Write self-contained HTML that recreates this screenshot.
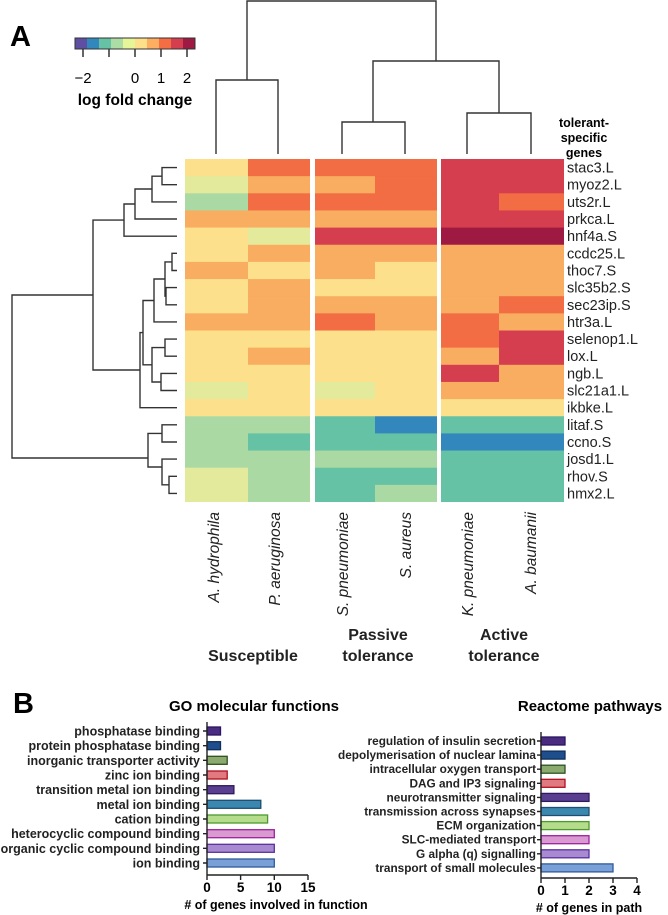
<!DOCTYPE html>
<html><head><meta charset="utf-8"><style>
html,body{margin:0;padding:0;background:#fff}
svg{display:block;font-family:"Liberation Sans",Arial,sans-serif}
.Y{fill:#fde08b}.LG{fill:#e4ea9c}.G{fill:#abd9a4}.T{fill:#66c2a5}.B{fill:#3288bd}.O{fill:#f9ad61}.R{fill:#f26d43}.RR{fill:#d53e4f}.DR{fill:#9e1a42}
.d{fill:none;stroke:#333;stroke-width:1.4}
.g{font-size:14.5px;fill:#222}
.bl{font-size:12.5px;font-weight:bold;fill:#222}
.rl{font-size:11.8px;font-weight:bold;fill:#222}
</style></head><body>
<svg width="668" height="915" viewBox="0 0 668 915">
<text x="10" y="46" font-size="29" font-weight="bold">A</text>
<g>
<rect x="75" y="38" width="12" height="11" fill="#5e4fa2"/><rect x="87" y="38" width="12" height="11" fill="#3288bd"/><rect x="99" y="38" width="12" height="11" fill="#66c2a5"/><rect x="111" y="38" width="12" height="11" fill="#abdda4"/><rect x="123" y="38" width="12" height="11" fill="#e6f598"/><rect x="135" y="38" width="12" height="11" fill="#fee08b"/><rect x="147" y="38" width="12" height="11" fill="#fdae61"/><rect x="159" y="38" width="12" height="11" fill="#f46d43"/><rect x="171" y="38" width="12" height="11" fill="#d53e4f"/><rect x="183" y="38" width="12" height="11" fill="#9e1a42"/>
<rect x="75" y="38" width="120" height="11" fill="none" stroke="#333" stroke-width="1"/>
<path d="M83 49V57M109 49V57M135 49V57M161 49V57M187 49V57" stroke="#333" stroke-width="1.5"/>
<text x="83" y="83" font-size="15" text-anchor="middle">−2</text><text x="135" y="83" font-size="15" text-anchor="middle">0</text><text x="161" y="83" font-size="15" text-anchor="middle">1</text><text x="187" y="83" font-size="15" text-anchor="middle">2</text>
<text x="135" y="105" font-size="15.5" font-weight="bold" text-anchor="middle">log fold change</text>
</g>
<path class="d" d="M216 154V80H278V154M247 80V1H436V61M342 154V122H405V154M373 122V61H499V113M467 154V113H531V154"/>
<text x="584" y="127" font-size="12.5" font-weight="bold" text-anchor="middle">tolerant-</text>
<text x="584" y="142" font-size="12.5" font-weight="bold" text-anchor="middle">specific</text>
<text x="584" y="157" font-size="12.5" font-weight="bold" text-anchor="middle">genes</text>
<g id="hm">
<g transform="translate(0,159)"><rect class="Y" x="185" width="63" height="17.6"/><rect class="R" x="248" width="62" height="17.6"/><rect class="R" x="315" width="60" height="17.6"/><rect class="R" x="375" width="62" height="17.6"/><rect class="RR" x="441" width="58" height="17.6"/><rect class="RR" x="499" width="65" height="17.6"/></g>
<g transform="translate(0,176.15)"><rect class="LG" x="185" width="63" height="17.6"/><rect class="O" x="248" width="62" height="17.6"/><rect class="O" x="315" width="60" height="17.6"/><rect class="R" x="375" width="62" height="17.6"/><rect class="RR" x="441" width="58" height="17.6"/><rect class="RR" x="499" width="65" height="17.6"/></g>
<g transform="translate(0,193.3)"><rect class="G" x="185" width="63" height="17.6"/><rect class="R" x="248" width="62" height="17.6"/><rect class="R" x="315" width="60" height="17.6"/><rect class="R" x="375" width="62" height="17.6"/><rect class="RR" x="441" width="58" height="17.6"/><rect class="R" x="499" width="65" height="17.6"/></g>
<g transform="translate(0,210.45)"><rect class="O" x="185" width="63" height="17.6"/><rect class="O" x="248" width="62" height="17.6"/><rect class="O" x="315" width="60" height="17.6"/><rect class="O" x="375" width="62" height="17.6"/><rect class="RR" x="441" width="58" height="17.6"/><rect class="RR" x="499" width="65" height="17.6"/></g>
<g transform="translate(0,227.6)"><rect class="Y" x="185" width="63" height="17.6"/><rect class="LG" x="248" width="62" height="17.6"/><rect class="RR" x="315" width="60" height="17.6"/><rect class="RR" x="375" width="62" height="17.6"/><rect class="DR" x="441" width="58" height="17.6"/><rect class="DR" x="499" width="65" height="17.6"/></g>
<g transform="translate(0,244.75)"><rect class="Y" x="185" width="63" height="17.6"/><rect class="O" x="248" width="62" height="17.6"/><rect class="O" x="315" width="60" height="17.6"/><rect class="O" x="375" width="62" height="17.6"/><rect class="O" x="441" width="58" height="17.6"/><rect class="O" x="499" width="65" height="17.6"/></g>
<g transform="translate(0,261.9)"><rect class="O" x="185" width="63" height="17.6"/><rect class="Y" x="248" width="62" height="17.6"/><rect class="O" x="315" width="60" height="17.6"/><rect class="Y" x="375" width="62" height="17.6"/><rect class="O" x="441" width="58" height="17.6"/><rect class="O" x="499" width="65" height="17.6"/></g>
<g transform="translate(0,279.05)"><rect class="Y" x="185" width="63" height="17.6"/><rect class="O" x="248" width="62" height="17.6"/><rect class="Y" x="315" width="60" height="17.6"/><rect class="Y" x="375" width="62" height="17.6"/><rect class="O" x="441" width="58" height="17.6"/><rect class="O" x="499" width="65" height="17.6"/></g>
<g transform="translate(0,296.2)"><rect class="Y" x="185" width="63" height="17.6"/><rect class="O" x="248" width="62" height="17.6"/><rect class="O" x="315" width="60" height="17.6"/><rect class="O" x="375" width="62" height="17.6"/><rect class="O" x="441" width="58" height="17.6"/><rect class="R" x="499" width="65" height="17.6"/></g>
<g transform="translate(0,313.35)"><rect class="O" x="185" width="63" height="17.6"/><rect class="O" x="248" width="62" height="17.6"/><rect class="R" x="315" width="60" height="17.6"/><rect class="O" x="375" width="62" height="17.6"/><rect class="R" x="441" width="58" height="17.6"/><rect class="O" x="499" width="65" height="17.6"/></g>
<g transform="translate(0,330.5)"><rect class="Y" x="185" width="63" height="17.6"/><rect class="Y" x="248" width="62" height="17.6"/><rect class="Y" x="315" width="60" height="17.6"/><rect class="Y" x="375" width="62" height="17.6"/><rect class="R" x="441" width="58" height="17.6"/><rect class="RR" x="499" width="65" height="17.6"/></g>
<g transform="translate(0,347.65)"><rect class="Y" x="185" width="63" height="17.6"/><rect class="O" x="248" width="62" height="17.6"/><rect class="Y" x="315" width="60" height="17.6"/><rect class="Y" x="375" width="62" height="17.6"/><rect class="O" x="441" width="58" height="17.6"/><rect class="RR" x="499" width="65" height="17.6"/></g>
<g transform="translate(0,364.8)"><rect class="Y" x="185" width="63" height="17.6"/><rect class="Y" x="248" width="62" height="17.6"/><rect class="Y" x="315" width="60" height="17.6"/><rect class="Y" x="375" width="62" height="17.6"/><rect class="RR" x="441" width="58" height="17.6"/><rect class="O" x="499" width="65" height="17.6"/></g>
<g transform="translate(0,381.95)"><rect class="LG" x="185" width="63" height="17.6"/><rect class="Y" x="248" width="62" height="17.6"/><rect class="LG" x="315" width="60" height="17.6"/><rect class="Y" x="375" width="62" height="17.6"/><rect class="O" x="441" width="58" height="17.6"/><rect class="O" x="499" width="65" height="17.6"/></g>
<g transform="translate(0,399.1)"><rect class="Y" x="185" width="63" height="17.6"/><rect class="Y" x="248" width="62" height="17.6"/><rect class="Y" x="315" width="60" height="17.6"/><rect class="Y" x="375" width="62" height="17.6"/><rect class="Y" x="441" width="58" height="17.6"/><rect class="Y" x="499" width="65" height="17.6"/></g>
<g transform="translate(0,416.25)"><rect class="G" x="185" width="63" height="17.6"/><rect class="G" x="248" width="62" height="17.6"/><rect class="T" x="315" width="60" height="17.6"/><rect class="B" x="375" width="62" height="17.6"/><rect class="T" x="441" width="58" height="17.6"/><rect class="T" x="499" width="65" height="17.6"/></g>
<g transform="translate(0,433.4)"><rect class="G" x="185" width="63" height="17.6"/><rect class="T" x="248" width="62" height="17.6"/><rect class="T" x="315" width="60" height="17.6"/><rect class="T" x="375" width="62" height="17.6"/><rect class="B" x="441" width="58" height="17.6"/><rect class="B" x="499" width="65" height="17.6"/></g>
<g transform="translate(0,450.55)"><rect class="G" x="185" width="63" height="17.6"/><rect class="G" x="248" width="62" height="17.6"/><rect class="G" x="315" width="60" height="17.6"/><rect class="G" x="375" width="62" height="17.6"/><rect class="T" x="441" width="58" height="17.6"/><rect class="T" x="499" width="65" height="17.6"/></g>
<g transform="translate(0,467.7)"><rect class="LG" x="185" width="63" height="17.6"/><rect class="G" x="248" width="62" height="17.6"/><rect class="T" x="315" width="60" height="17.6"/><rect class="T" x="375" width="62" height="17.6"/><rect class="T" x="441" width="58" height="17.6"/><rect class="T" x="499" width="65" height="17.6"/></g>
<g transform="translate(0,484.85)"><rect class="LG" x="185" width="63" height="17.15"/><rect class="G" x="248" width="62" height="17.15"/><rect class="T" x="315" width="60" height="17.15"/><rect class="G" x="375" width="62" height="17.15"/><rect class="T" x="441" width="58" height="17.15"/><rect class="T" x="499" width="65" height="17.15"/></g>
</g>
<g class="g">
<text x="567" y="172.6">stac3.L</text><text x="567" y="189.7">myoz2.L</text><text x="567" y="206.9">uts2r.L</text><text x="567" y="224">prkca.L</text><text x="567" y="241.2">hnf4a.S</text><text x="567" y="258.3">ccdc25.L</text><text x="567" y="275.5">thoc7.S</text><text x="567" y="292.6">slc35b2.S</text><text x="567" y="309.8">sec23ip.S</text><text x="567" y="326.9">htr3a.L</text><text x="567" y="344.1">selenop1.L</text><text x="567" y="361.2">lox.L</text><text x="567" y="378.4">ngb.L</text><text x="567" y="395.5">slc21a1.L</text><text x="567" y="412.7">ikbke.L</text><text x="567" y="429.8">litaf.S</text><text x="567" y="447">ccno.S</text><text x="567" y="464.1">josd1.L</text><text x="567" y="481.3">rhov.S</text><text x="567" y="498.4">hmx2.L</text>
</g>
<path class="d" d="M177 167.6H162V184.7H177M162 176.2H152V201.9H177M152 189H135V219H177M135 204H124V236.2H177
M177 253.3H172V270.5H177M177 287.6H166V304.8H177M172 261.9H165V296.2H166M165 279H154V321.9H177
M177 339.1H165V356.2H177M177 373.4H161V390.5H177M165 347.6H152V382H161M154 300.5H143V364.8H152M143 332.6H140V407.7H177
M124 220.1H93V370H140
M177 424.8H162V442H177M177 476.3H169V493.4H177M177 459.1H162V484.8H169M162 433.4H148V467H162
M93 295H12V458H148"/>
<g font-size="15.5" font-style="italic" fill="#222" text-anchor="end">
<text transform="translate(219,512) rotate(-90)">A. hydrophila</text>
<text transform="translate(280,512) rotate(-90)">P. aeruginosa</text>
<text transform="translate(348,512) rotate(-90)">S. pneumoniae</text>
<text transform="translate(411,512) rotate(-90)">S. aureus</text>
<text transform="translate(473,512) rotate(-90)">K. pneumoniae</text>
<text transform="translate(536,512) rotate(-90)">A. baumanii</text>
</g>
<g font-size="16" font-weight="bold" text-anchor="middle" fill="#222">
<text x="253" y="661">Susceptible</text>
<text x="378" y="640">Passive</text><text x="378" y="661">tolerance</text>
<text x="504" y="640">Active</text><text x="504" y="661">tolerance</text>
</g>
<text x="13" y="713" font-size="29" font-weight="bold">B</text>
<text x="254" y="711" font-size="15" font-weight="bold" text-anchor="middle">GO molecular functions</text>
<text x="590" y="711" font-size="15" font-weight="bold" text-anchor="middle">Reactome pathways</text>
<g class="bl" text-anchor="end">
<text x="200" y="735.5">phosphatase binding</text><text x="200" y="750.2">protein phosphatase binding</text><text x="200" y="764.8">inorganic transporter activity</text><text x="200" y="779.5">zinc ion binding</text><text x="200" y="794.2">transition metal ion binding</text><text x="200" y="808.8">metal ion binding</text><text x="200" y="823.5">cation binding</text><text x="200" y="838.2">heterocyclic compound binding</text><text x="200" y="852.8">organic cyclic compound binding</text><text x="200" y="867.5">ion binding</text>
</g>
<g stroke-width="1.3">
<rect x="207" y="727" width="13.5" height="8" fill="#4a2d80" stroke="#2a1560"/>
<rect x="207" y="741.7" width="13.5" height="8" fill="#1f4e8c" stroke="#10305a"/>
<rect x="207" y="756.3" width="20.2" height="8" fill="#8aaa70" stroke="#2f5020"/>
<rect x="207" y="771" width="20.2" height="8" fill="#e07a80" stroke="#b01020"/>
<rect x="207" y="785.7" width="26.9" height="8" fill="#5a3f90" stroke="#2f1a60"/>
<rect x="207" y="800.3" width="53.8" height="8" fill="#3a88b0" stroke="#1f4e70"/>
<rect x="207" y="815" width="60.6" height="8" fill="#b5dc8a" stroke="#4a9a30"/>
<rect x="207" y="829.7" width="67.3" height="8" fill="#d89ad0" stroke="#a020a0"/>
<rect x="207" y="844.3" width="67.3" height="8" fill="#a78ad0" stroke="#5a30a0"/>
<rect x="207" y="859" width="67.3" height="8" fill="#7aa0d8" stroke="#2f5a9a"/>
</g>
<path d="M207 722V875H308M207 875V880M240.6 875V880M274.3 875V880M308 875V880M203 731H207M203 745.7H207M203 760.3H207M203 775H207M203 789.7H207M203 804.3H207M203 819H207M203 833.7H207M203 848.3H207M203 863H207" stroke="#222" stroke-width="1.4" fill="none"/>
<g font-size="13.5" font-weight="bold" text-anchor="middle"><text x="207" y="892">0</text><text x="240.6" y="892">5</text><text x="274.3" y="892">10</text><text x="308" y="892">15</text></g>
<text x="276" y="909" font-size="12.5" font-weight="bold" text-anchor="middle"># of genes involved in function</text>
<g class="rl" text-anchor="end">
<text x="536" y="745">regulation of insulin secretion</text><text x="536" y="759.1">depolymerisation of nuclear lamina</text><text x="536" y="773.2">intracellular oxygen transport</text><text x="536" y="787.3">DAG and IP3 signaling</text><text x="536" y="801.4">neurotransmitter signaling</text><text x="536" y="815.5">transmission across synapses</text><text x="536" y="829.6">ECM organization</text><text x="536" y="843.7">SLC-mediated transport</text><text x="536" y="857.8">G alpha (q) signalling</text><text x="536" y="871.9">transport of small molecules</text>
</g>
<g stroke-width="1.3">
<rect x="541" y="737" width="24" height="8" fill="#4a2d80" stroke="#2a1560"/>
<rect x="541" y="751.1" width="24" height="8" fill="#1f4e8c" stroke="#10305a"/>
<rect x="541" y="765.2" width="24" height="8" fill="#8aaa70" stroke="#2f5020"/>
<rect x="541" y="779.3" width="24" height="8" fill="#e07a80" stroke="#b01020"/>
<rect x="541" y="793.4" width="48" height="8" fill="#5a3f90" stroke="#2f1a60"/>
<rect x="541" y="807.5" width="48" height="8" fill="#3a88b0" stroke="#1f4e70"/>
<rect x="541" y="821.6" width="48" height="8" fill="#b5dc8a" stroke="#4a9a30"/>
<rect x="541" y="835.7" width="48" height="8" fill="#d89ad0" stroke="#a020a0"/>
<rect x="541" y="849.8" width="48" height="8" fill="#a78ad0" stroke="#5a30a0"/>
<rect x="541" y="863.9" width="72" height="8" fill="#7aa0d8" stroke="#2f5a9a"/>
</g>
<path d="M541 732V878H637M541 878V883M565 878V883M589 878V883M613 878V883M637 878V883M537 741H541M537 755.1H541M537 769.2H541M537 783.3H541M537 797.4H541M537 811.5H541M537 825.6H541M537 839.7H541M537 853.8H541M537 867.9H541" stroke="#222" stroke-width="1.4" fill="none"/>
<g font-size="13.5" font-weight="bold" text-anchor="middle"><text x="541" y="895">0</text><text x="565" y="895">1</text><text x="589" y="895">2</text><text x="613" y="895">3</text><text x="637" y="895">4</text></g>
<text x="589" y="912" font-size="12.5" font-weight="bold" text-anchor="middle"># of genes in path</text>
</svg>
</body></html>
